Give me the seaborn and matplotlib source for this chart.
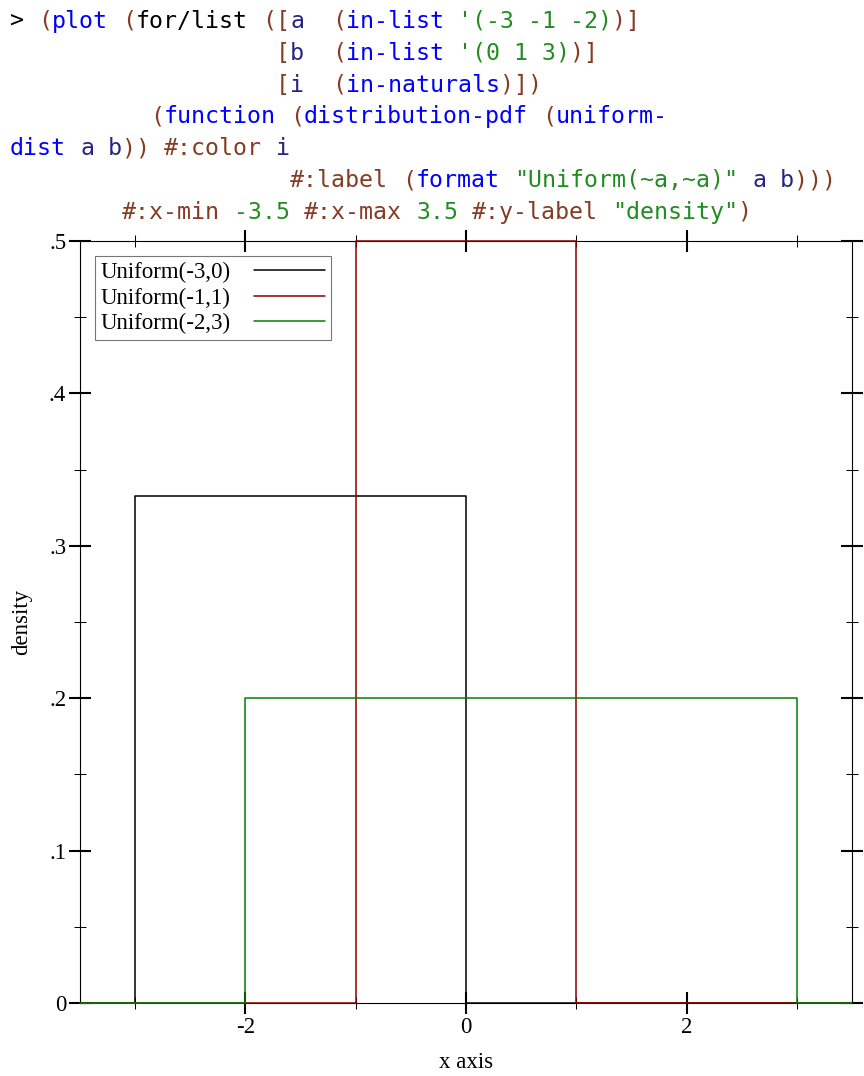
import matplotlib

matplotlib.use("Agg")
import matplotlib.pyplot as plt
import matplotlib.ticker as mticker
import pandas as pd
import seaborn as sns

# === DATEN ===
lower = [-3, -1, -2]
upper = [0, 1, 3]
density = [0.333, 0.5, 0.2]
labels = ["Uniform(-3,0)", "Uniform(-1,1)", "Uniform(-2,3)"]
colors = ["#000000", "#8b0000", "#008000"]
x_min, x_max = -3.5, 3.5
x_ticks = [-2, 0, 2]
y_ticks = [0, 0.1, 0.2, 0.3, 0.4, 0.5]

# code header: (column, text, colour)
PN, LNK, SYM, VAL, BLK = "#843c24", "#0000ff", "#262680", "#228b22", "#000000"
code_lines = [
    [(0, ">", BLK), (2, "(", PN), (3, "plot", LNK), (8, "(", PN), (9, "for/list", BLK),
     (18, "([", PN), (20, "a", SYM), (23, "(", PN), (24, "in-list", LNK),
     (32, "'(-3 -1 -2)", VAL), (43, ")]", PN)],
    [(19, "[", PN), (20, "b", SYM), (23, "(", PN), (24, "in-list", LNK),
     (32, "'(0 1 3)", VAL), (40, ")]", PN)],
    [(19, "[", PN), (20, "i", SYM), (23, "(", PN), (24, "in-naturals", LNK), (35, ")])", PN)],
    [(10, "(", PN), (11, "function", LNK), (20, "(", PN), (21, "distribution-pdf", LNK),
     (38, "(", PN), (39, "uniform-", LNK)],
    [(0, "dist", LNK), (5, "a", SYM), (7, "b", SYM), (8, "))", PN), (11, "#:color", PN),
     (19, "i", SYM)],
    [(20, "#:label", PN), (28, "(", PN), (29, "format", LNK), (36, '"Uniform(~a,~a)"', VAL),
     (53, "a", SYM), (55, "b", SYM), (56, ")))", PN)],
    [(8, "#:x-min", PN), (16, "-3.5", VAL), (21, "#:x-max", PN), (29, "3.5", VAL),
     (33, "#:y-label", PN), (43, '"density"', VAL), (52, ")", PN)],
]

W, H = 864, 1076

sns.set_style("white")
plt.rcParams["font.family"] = ["Liberation Serif", "DejaVu Serif"]
plt.rcParams["axes.unicode_minus"] = False

fig = plt.figure(figsize=(W / 100, H / 100), dpi=100)
ax = fig.add_axes([80 / W, (H - 1003) / H, 772 / W, 762 / H])

# header code
adv = 14.0
for i, line in enumerate(code_lines):
    y_px = 28 + 31.8 * i
    for col, txt, c in line:
        fig.text((10 + col * adv) / W, 1 - y_px / H, txt, color=c,
                 family="DejaVu Sans Mono", fontsize=adv / 0.602 * 0.72,
                 va="baseline", ha="left")

for a, b, d, lab, c in zip(lower, upper, density, labels, colors):
    df = pd.DataFrame({"x": [x_min, a, a, b, b, x_max], "y": [0, 0, d, d, 0, 0]})
    sns.lineplot(data=df, x="x", y="y", sort=False, estimator=None, color=c,
                 linewidth=1.1, label=lab, ax=ax, zorder=3, clip_on=False)

ax.set_xlim(x_min, x_max)
ax.set_ylim(0, 0.5)
ax.set_xticks(x_ticks)
ax.set_yticks(y_ticks)
ax.xaxis.set_minor_locator(mticker.MultipleLocator(1))
ax.yaxis.set_minor_locator(mticker.MultipleLocator(0.05))
ax.xaxis.set_major_formatter(mticker.FuncFormatter(lambda v, p: f"{int(round(v))}"))
ax.yaxis.set_major_formatter(
    mticker.FuncFormatter(lambda v, p: "0" if abs(v) < 1e-9 else f"{v:.1f}".lstrip("0")))

ax.tick_params(which="major", direction="inout", length=15.8, width=1.5, top=True,
               right=True, bottom=True, left=True, labelsize=16.5, pad=2,
               color="black", labelcolor="black")
ax.tick_params(which="minor", direction="inout", length=8, width=0.75, top=True,
               right=True, bottom=True, left=True, color="black")
for s in ax.spines.values():
    s.set_color("black")
    s.set_linewidth(0.8)

ax.set_xlabel("x axis", fontsize=16.5, color="black")
ax.set_ylabel("density", fontsize=16.5, color="black")
ax.xaxis.label.set_va("center")
ax.yaxis.label.set_va("center")
ax.xaxis.set_label_coords(0.5, (1003 - 1063) / 762)
ax.yaxis.set_label_coords((22 - 80) / 772, 0.5)

leg = ax.legend(loc="upper left", bbox_to_anchor=(15 / 772, (1003 - 256) / 762),
                borderaxespad=0, markerfirst=False, frameon=True, fancybox=False,
                edgecolor="#777777", framealpha=1, fontsize=16.5, handlelength=3.1,
                handletextpad=1.0, labelspacing=0.2, borderpad=0.25)
leg.get_frame().set_linewidth(0.8)
for t in leg.get_texts():
    t.set_color("black")

fig.savefig("out.png", dpi=100, facecolor="white")
